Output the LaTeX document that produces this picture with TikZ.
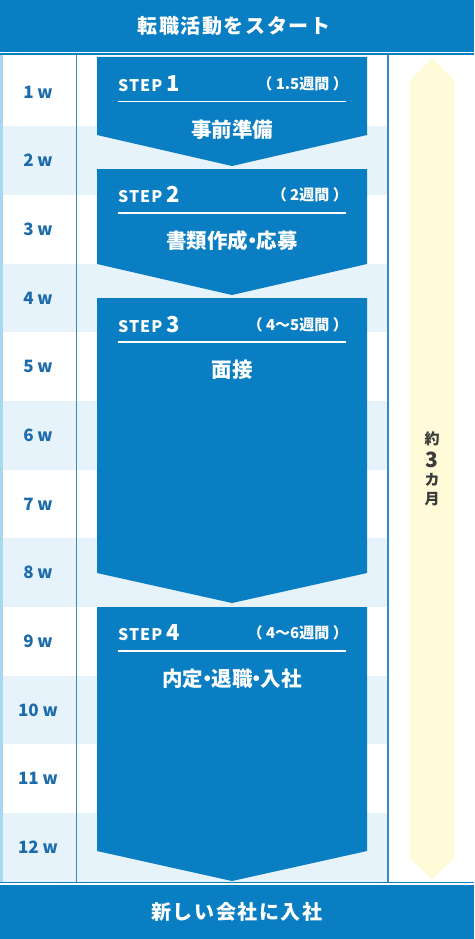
\documentclass[tikz,border=0pt]{standalone}
\usepackage{fontspec}
\setmainfont{Noto Sans CJK JP}
\definecolor{azul}{HTML}{0A7EC2}
\definecolor{franja}{HTML}{E6F3FB}
\definecolor{linea}{HTML}{3A88C4}
\definecolor{borde}{HTML}{A9D6F0}
\definecolor{semtexto}{HTML}{1C6BAA}
\definecolor{amarillo}{HTML}{FFFBD8}
\definecolor{gris}{HTML}{3A3A3A}
\newcommand{\punto}{\kern-0.3em・\kern-0.3em}

\begin{document}
\begin{tikzpicture}[
        x=1pt, y=-1pt,
        barra/.style={fill=azul},
        paso/.style={fill=azul},
        titulo/.style={text=white, font=\bfseries\fontsize{20}{20}\selectfont\addfontfeatures{LetterSpace=8}},
        semana/.style={text=semtexto, font=\bfseries\fontsize{17}{17}\selectfont},
        etapa/.style={anchor=base west, text=white, inner sep=0pt},
        duracion/.style={anchor=base east, text=white, inner sep=0pt, font=\bfseries\fontsize{15}{15}\selectfont},
        tarea/.style={text=white, font=\bfseries\fontsize{20.5}{21}\selectfont}
    ]
        \useasboundingbox (0,0) rectangle (474,939);

        % Franjas de semanas
        \foreach \i in {2,4,...,12}
            \fill[franja] (0,{57.5+(\i-1)*68.67}) rectangle (388,{57.5+\i*68.67});
        \fill[borde] (0,55.5) rectangle (2.5,881.5);
        \draw[linea, line width=1.3pt] (76.5,55.5) -- (76.5,881.5);
        \draw[linea, line width=1.3pt] (388,55.5) -- (388,881.5);
        \foreach \i in {1,...,12}
            \node[semana] (w\i) at (38,{57.5+(\i-0.5)*68.67}) {\i\ w};

        % Cabecera y pie
        \fill[barra] (0,0) rectangle (474,52);
        \fill[barra] (0,53.5) rectangle (474,55.5);
        \node[titulo] (inicio) at (234,26) {転職活動をスタート};
        \fill[barra] (0,881.5) rectangle (474,883.3);
        \fill[barra] (0,885.3) rectangle (474,939);
        \node[titulo] (fin) at (237,912) {新しい会社に入社};

        % Flecha de duracion
        \fill[amarillo] (432,58) -- (454,80) -- (454,859) -- (432,879) -- (410,859) -- (410,80) -- cycle;
        \node[text=gris, font=\bfseries\fontsize{15}{15}\selectfont, align=center, inner sep=0pt] (total) at (432,469)
            {約\\[5pt]{\fontsize{21}{21}\selectfont 3}\\[3pt]カ\\[4pt]月};

        % Pasos
        \fill[paso] (97,57) -- (367,57) -- (367,135) -- (232,166) -- (97,135) -- cycle;
        \fill[paso] (97,169) -- (367,169) -- (367,264) -- (232,295) -- (97,264) -- cycle;
        \fill[paso] (97,298) -- (367,298) -- (367,573) -- (232,603) -- (97,573) -- cycle;
        \fill[paso] (97,607) -- (367,607) -- (367,851) -- (232,881) -- (97,851) -- cycle;

        % Encabezados de pasos
        \node[etapa] (s1) at (118,92) {\bfseries\fontsize{16}{16}\selectfont\addfontfeatures{LetterSpace=6}STEP\ \fontsize{22}{22}\selectfont 1};
        \node[duracion] (d1) at (348,90) {（ 1.5週間 ）};
        \draw[white, line width=1.2pt] (118,101.5) -- (346,101.5);
        \node[etapa] (s2) at (118,202) {\bfseries\fontsize{16}{16}\selectfont\addfontfeatures{LetterSpace=6}STEP\ \fontsize{22}{22}\selectfont 2};
        \node[duracion] (d2) at (348,200) {（ 2週間 ）};
        \draw[white, line width=1.2pt] (118,213) -- (346,213);
        \node[etapa] (s3) at (118,332) {\bfseries\fontsize{16}{16}\selectfont\addfontfeatures{LetterSpace=6}STEP\ \fontsize{22}{22}\selectfont 3};
        \node[duracion] (d3) at (348,330) {（ 4～5週間 ）};
        \draw[white, line width=1.2pt] (118,342) -- (346,342);
        \node[etapa] (s4) at (118,640) {\bfseries\fontsize{16}{16}\selectfont\addfontfeatures{LetterSpace=6}STEP\ \fontsize{22}{22}\selectfont 4};
        \node[duracion] (d4) at (348,638) {（ 4～6週間 ）};
        \draw[white, line width=1.2pt] (118,651) -- (346,651);

        % Tareas
        \node[tarea] (t1) at (232,130) {事前準備};
        \node[tarea] (t2) at (232,241) {書類作成\punto 応募};
        \node[tarea] (t3) at (232,370) {面接};
        \node[tarea] (t4) at (232,679) {内定\punto 退職\punto 入社};

    \end{tikzpicture}
\end{document}
